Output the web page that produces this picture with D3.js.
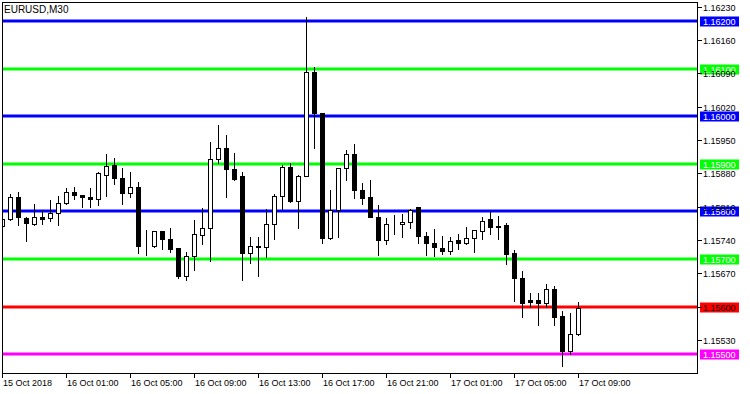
<!DOCTYPE html>
<html><head><meta charset="utf-8">
<script src="https://cdn.jsdelivr.net/npm/d3@7/dist/d3.min.js"></script>
<style>
html,body{margin:0;padding:0;background:#fff;}
svg{display:block;}
text{font-family:"Liberation Sans",Arial,sans-serif;}
</style></head>
<body>
<svg id="c" width="750" height="394"></svg>
<script>
const title = "EURUSD,M30";
const startTime = new Date(2018, 9, 15, 21, 0);
const opens  = [1.15768,1.15783,1.15830,1.15786,1.15772,1.15788,1.15786,1.15796,1.15817,1.15839,
                1.15834,1.15830,1.15825,1.15875,1.15897,1.15870,1.15838,1.15851,1.15727,1.15726,
                1.15758,1.15741,1.15722,1.15663,1.15706,1.15749,1.15765,1.15909,1.15933,1.15888,
                1.15874,1.15712,1.15727,1.15725,1.15773,1.15832,1.15893,1.15820,1.15874,1.16092,
                1.16006,1.15743,1.15802,1.15891,1.15920,1.15844,1.15830,1.15788,1.15738,1.15773,
                1.15772,1.15777,1.15809,1.15747,1.15733,1.15723,1.15715,1.15738,1.15732,1.15743,
                1.15757,1.15782,1.15769,1.15771,1.15711,1.15660,1.15612,1.15612,1.15607,1.15635,
                1.15580,1.15505,1.15541];
const highs  = [1.15792,1.15837,1.15841,1.15788,1.15816,1.15804,1.15824,1.15832,1.15849,1.15851,
                1.15834,1.15849,1.15883,1.15921,1.15912,1.15891,1.15883,1.15862,1.15762,1.15758,
                1.15758,1.15765,1.15722,1.15715,1.15783,1.15807,1.15946,1.15982,1.15961,1.15923,
                1.15883,1.15747,1.15747,1.15806,1.15837,1.15897,1.15902,1.15876,1.16208,1.16103,
                1.16006,1.15845,1.15891,1.15929,1.15942,1.15860,1.15866,1.15813,1.15786,1.15793,
                1.15795,1.15805,1.15809,1.15757,1.15763,1.15748,1.15747,1.15753,1.15767,1.15761,
                1.15788,1.15800,1.15790,1.15775,1.15719,1.15675,1.15629,1.15629,1.15648,1.15643,
                1.15591,1.15587,1.15610];
const lows   = [1.15765,1.15783,1.15772,1.15738,1.15771,1.15774,1.15779,1.15772,1.15815,1.15826,
                1.15810,1.15810,1.15814,1.15833,1.15858,1.15816,1.15831,1.15713,1.15709,1.15725,
                1.15720,1.15715,1.15660,1.15656,1.15676,1.15732,1.15696,1.15902,1.15831,1.15866,
                1.15656,1.15691,1.15665,1.15705,1.15741,1.15806,1.15820,1.15766,1.15874,1.15934,
                1.15733,1.15741,1.15747,1.15867,1.15829,1.15816,1.15788,1.15708,1.15732,1.15752,
                1.15747,1.15766,1.15733,1.15708,1.15707,1.15711,1.15711,1.15722,1.15732,1.15715,
                1.15743,1.15753,1.15743,1.15689,1.15612,1.15579,1.15600,1.15562,1.15600,1.15562,
                1.15476,1.15501,1.15541];
const closes = [1.15783,1.15830,1.15788,1.15774,1.15788,1.15783,1.15796,1.15817,1.15839,1.15833,
                1.15829,1.15825,1.15879,1.15895,1.15869,1.15837,1.15851,1.15726,1.15727,1.15758,
                1.15741,1.15720,1.15663,1.15706,1.15752,1.15765,1.15909,1.15933,1.15888,1.15868,
                1.15711,1.15727,1.15725,1.15773,1.15832,1.15893,1.15820,1.15874,1.16092,1.16006,
                1.15743,1.15802,1.15891,1.15920,1.15844,1.15827,1.15788,1.15739,1.15773,1.15773,
                1.15777,1.15802,1.15747,1.15732,1.15725,1.15715,1.15737,1.15732,1.15744,1.15759,
                1.15779,1.15766,1.15766,1.15709,1.15659,1.15607,1.15608,1.15607,1.15635,1.15577,
                1.15505,1.15542,1.15597];
const levelPrices = [1.162, 1.161, 1.160, 1.159, 1.158, 1.157, 1.156, 1.155];
const levelLabels = ["1.16200","1.16100","1.16000","1.15900","1.15800","1.15700","1.15600","1.15500"];
const levelColors = ["#0000ff","#00ff00","#0000ff","#00ff00","#0000ff","#00ff00","#ff0000","#ff00ff"];
const levelTextColors = ["#fff","#fff","#fff","#fff","#fff","#fff","#000","#fff"];
const priceTicks = [1.16230,1.16160,1.16090,1.16020,1.15950,1.15880,1.15810,1.15740,1.15670,1.15600,1.15530];
const timeTickLabels = ["15 Oct 2018","16 Oct 01:00","16 Oct 05:00","16 Oct 09:00","16 Oct 13:00",
                        "16 Oct 17:00","16 Oct 21:00","17 Oct 01:00","17 Oct 05:00","17 Oct 09:00"];

const HALF = 30*60*1000;
const times = opens.map((_, i) => new Date(+startTime + i*HALF));
const data = times.map((t, i) => ({t, o: opens[i], h: highs[i], l: lows[i], c: closes[i]}));
const tickTimes = timeTickLabels.map((_, i) => new Date(+startTime + i*8*HALF));

const L = 2, T = 2, R = 697, B = 373;
const svg = d3.select("#c");
const x = d3.scaleTime().domain([times[0], times[times.length-1]]).range([2.5, 578.5]);
const y = d3.scaleLinear().domain([1.154605, 1.1624]).range([B, T]);
const snap = v => Math.round(v - 0.5) + 0.5;

svg.append("rect").attr("width", 750).attr("height", 394).attr("fill", "#fff");

const plot = svg.append("g");
plot.append("clipPath").attr("id", "clip").append("rect")
  .attr("x", L + 1).attr("y", T + 1).attr("width", R - L - 1).attr("height", B - T - 1);
const inner = plot.append("g").attr("clip-path", "url(#clip)");

// level lines
inner.selectAll("line.lvl").data(levelPrices).join("line")
  .attr("x1", L).attr("x2", R)
  .attr("y1", d => Math.round(y(d))).attr("y2", d => Math.round(y(d)))
  .attr("stroke", (d, i) => levelColors[i]).attr("stroke-width", 3);

// candles
const cg = inner.append("g").attr("shape-rendering", "crispEdges");
cg.selectAll("line.wick").data(data).join("line")
  .attr("x1", d => snap(x(d.t))).attr("x2", d => snap(x(d.t)))
  .attr("y1", d => y(d.h)).attr("y2", d => y(d.l) + 1)
  .attr("stroke", "#000").attr("stroke-width", 1);
cg.selectAll("rect.body").data(data).join("rect")
  .attr("x", d => snap(x(d.t)) - 2)
  .attr("y", d => snap(y(Math.max(d.o, d.c))))
  .attr("width", 4)
  .attr("height", d => Math.max(0, snap(y(Math.min(d.o, d.c))) - snap(y(Math.max(d.o, d.c)))))
  .attr("fill", d => d.c >= d.o ? "#fff" : "#000")
  .attr("stroke", "#000").attr("stroke-width", 1);

// frame
svg.append("rect").attr("x", L + 0.5).attr("y", T + 0.5).attr("width", R - L).attr("height", B - T)
  .attr("fill", "none").attr("stroke", "#000").attr("stroke-width", 1).attr("shape-rendering", "crispEdges");

// title
svg.append("text").attr("x", 4).attr("y", 13).attr("font-size", 10).attr("fill", "#000").text(title);

// level labels (boxes)
const lv = svg.append("g");
levelPrices.forEach((p, i) => {
  const yy = Math.round(y(p));
  lv.append("rect").attr("x", 700).attr("y", yy - 4.5).attr("width", 39).attr("height", 10)
    .attr("fill", levelColors[i]);
  lv.append("text").attr("x", 703).attr("y", yy + 4).attr("font-size", 9)
    .attr("fill", levelTextColors[i]).text(levelLabels[i]);
});

// right axis
const ra = svg.append("g").attr("shape-rendering", "crispEdges");
priceTicks.forEach(p => {
  const yy = Math.round(y(p)) + 0.5;
  ra.append("line").attr("x1", R).attr("x2", R + 5).attr("y1", yy).attr("y2", yy).attr("stroke", "#000");
  if (Math.abs(p - 1.156) > 1e-9) {
    ra.append("text").attr("x", 703).attr("y", yy + 3.5).attr("font-size", 9).attr("fill", "#000")
      .text(p.toFixed(5));
  }
});

// bottom axis
const ba = svg.append("g").attr("shape-rendering", "crispEdges");
tickTimes.forEach((t, i) => {
  const xx = snap(x(t));
  ba.append("line").attr("x1", xx).attr("x2", xx).attr("y1", B).attr("y2", B + 5).attr("stroke", "#000");
  ba.append("text").attr("x", xx + 0.5).attr("y", 386).attr("font-size", 9).attr("fill", "#000").text(timeTickLabels[i]);
});
</script>
</body></html>
